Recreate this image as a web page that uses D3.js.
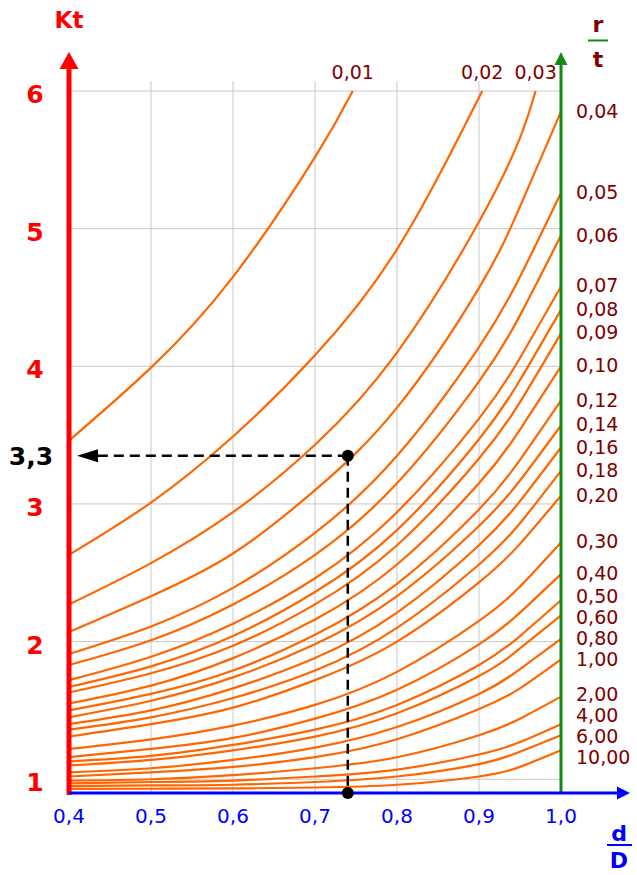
<!DOCTYPE html>
<html>
<head>
<meta charset="utf-8">
<script src="https://cdn.jsdelivr.net/npm/d3@7"></script>
<style>
  body { margin: 0; background: #fff; }
  text { font-family: "DejaVu Sans", Verdana, sans-serif; }
</style>
</head>
<body>
<div id="chart"></div>
<script>
  // d/D sample points
  var dD = [0.4, 0.5, 0.6, 0.7, 0.8, 0.9, 0.95, 1.0];

  var rtLabels = ["0,01", "0,02", "0,03", "0,04", "0,05", "0,06", "0,07", "0,08", "0,09",
                  "0,10", "0,12", "0,14", "0,16", "0,18", "0,20", "0,30", "0,40", "0,50",
                  "0,60", "0,80", "1,00", "2,00", "4,00", "6,00", "10,00"];

  // Kt for each r/t curve at the dD points (null = curve already left the top)
  var ktCurves = [
    [3.46, 3.99, 4.65, 5.52, null, null, null, null],
    [2.63, 3.01, 3.49, 4.08, 4.85, null, null, null],
    [2.27, 2.57, 2.94, 3.43, 4.10, 5.05, 5.66, null],
    [2.07, 2.33, 2.64, 3.10, 3.70, 4.57, 5.16, 5.85],
    [1.91, 2.11, 2.39, 2.79, 3.35, 4.14, 4.65, 5.26],
    [1.83, 2.01, 2.27, 2.63, 3.15, 3.89, 4.37, 4.95],
    [1.72, 1.89, 2.13, 2.46, 2.94, 3.62, 4.06, 4.58],
    [1.67, 1.82, 2.04, 2.36, 2.81, 3.47, 3.90, 4.41],
    [1.63, 1.77, 1.97, 2.27, 2.70, 3.33, 3.74, 4.24],
    [1.55, 1.68, 1.88, 2.16, 2.56, 3.15, 3.54, 4.00],
    [1.50, 1.62, 1.79, 2.05, 2.42, 2.96, 3.32, 3.75],
    [1.45, 1.57, 1.74, 1.98, 2.33, 2.84, 3.17, 3.57],
    [1.40, 1.50, 1.66, 1.88, 2.21, 2.70, 3.02, 3.41],
    [1.36, 1.45, 1.59, 1.79, 2.10, 2.56, 2.86, 3.24],
    [1.31, 1.40, 1.52, 1.72, 2.00, 2.43, 2.71, 3.06],
    [1.22, 1.29, 1.39, 1.54, 1.78, 2.15, 2.40, 2.72],
    [1.16, 1.22, 1.30, 1.44, 1.65, 1.98, 2.21, 2.49],
    [1.13, 1.17, 1.25, 1.36, 1.54, 1.83, 2.04, 2.30],
    [1.10, 1.14, 1.21, 1.31, 1.48, 1.75, 1.95, 2.19],
    [1.05, 1.08, 1.14, 1.23, 1.38, 1.62, 1.80, 2.02],
    [1.02, 1.05, 1.09, 1.16, 1.29, 1.51, 1.66, 1.87],
    [0.99, 1.00, 1.03, 1.08, 1.16, 1.32, 1.44, 1.60],
    [0.97, 0.98, 0.99, 1.02, 1.07, 1.18, 1.27, 1.40],
    [0.95, 0.955, 0.96, 0.98, 1.02, 1.11, 1.20, 1.32],
    [0.93, 0.931, 0.933, 0.94, 0.96, 1.02, 1.09, 1.21]
  ];

  // d/D where the first three curves reach Kt = 6
  var topReach = [0.746, 0.904, 0.969];

  var xTicks = [0.4, 0.5, 0.6, 0.7, 0.8, 0.9, 1.0];
  var yTicks = [1, 2, 3, 4, 5, 6];

  // worked example: d/D = 0.74, r/t = 0.04
  var exampleDD = 0.74, exampleKt = 3.35, exampleLabel = "3,3";

  var W = 637, H = 875;
  var x = d3.scaleLinear().domain([0.4, 1.0]).range([69, 561]);
  var y = d3.scaleLinear().domain([0.9, 6]).range([793, 91]);

  var svg = d3.select("#chart").append("svg")
      .attr("width", W)
      .attr("height", H)
      .style("background", "#fff");

  var comma = function (v) { return String(v).replace(".", ","); };

  // grid
  var grid = svg.append("g").attr("stroke", "#c8c8c8").attr("stroke-width", 1);
  grid.selectAll(".vg")
    .data(xTicks.filter(function (d) { return d > 0.4; }))
    .enter().append("line")
      .attr("x1", function (d) { return x(d); })
      .attr("x2", function (d) { return x(d); })
      .attr("y1", y(6) - 10)
      .attr("y2", y(0.9));
  grid.selectAll(".hg")
    .data(yTicks)
    .enter().append("line")
      .attr("x1", x(0.4))
      .attr("x2", x(1.0))
      .attr("y1", function (d) { return y(d); })
      .attr("y2", function (d) { return y(d); });

  // curves
  var line = d3.line()
      .x(function (d) { return x(d[0]); })
      .y(function (d) { return y(d[1]); })
      .curve(d3.curveNatural);

  var curves = ktCurves.map(function (row, i) {
    var pts = [];
    row.forEach(function (v, j) { if (v !== null) pts.push([dD[j], v]); });
    if (i < topReach.length) pts.push([topReach[i], 6]);
    return pts;
  });

  svg.append("g")
    .selectAll("path")
    .data(curves)
    .enter().append("path")
      .attr("d", line)
      .attr("fill", "none")
      .attr("stroke", "#ff6600")
      .attr("stroke-width", 2.2);

  // green r/t axis
  svg.append("line")
    .attr("x1", x(1.0)).attr("x2", x(1.0))
    .attr("y1", y(0.9)).attr("y2", 62)
    .attr("stroke", "#138a13").attr("stroke-width", 3);
  svg.append("path")
    .attr("d", "M" + x(1.0) + ",52 l-6.5,13 l13,0 z")
    .attr("fill", "#138a13");

  // red Kt axis
  svg.append("line")
    .attr("x1", x(0.4)).attr("x2", x(0.4))
    .attr("y1", y(0.9) + 2).attr("y2", 64)
    .attr("stroke", "#ff0000").attr("stroke-width", 5);
  svg.append("path")
    .attr("d", "M" + x(0.4) + ",52 l-9.5,17 l19,0 z")
    .attr("fill", "#ff0000");

  // blue d/D axis
  svg.append("line")
    .attr("x1", x(0.4)).attr("x2", 620)
    .attr("y1", y(0.9)).attr("y2", y(0.9))
    .attr("stroke", "#0000ff").attr("stroke-width", 3);
  svg.append("path")
    .attr("d", "M630," + y(0.9) + " l-13,-6.5 l0,13 z")
    .attr("fill", "#0000ff");

  // bottom tick labels
  svg.append("g")
    .selectAll("text")
    .data(xTicks)
    .enter().append("text")
      .attr("x", function (d) { return x(d); })
      .attr("y", y(0.9) + 30)
      .attr("text-anchor", "middle")
      .attr("fill", "#0000ff")
      .style("font-size", "20px")
      .text(function (d) { return comma(d.toFixed(1)); });

  // left tick labels
  svg.append("g")
    .selectAll("text")
    .data(yTicks)
    .enter().append("text")
      .attr("x", 35)
      .attr("y", function (d) { return y(d) + 12; })
      .attr("text-anchor", "middle")
      .attr("fill", "#ff0000")
      .style("font-size", "25px")
      .style("font-weight", "bold")
      .text(function (d) { return d; });

  // axis titles
  svg.append("text")
    .attr("x", x(0.4)).attr("y", 28)
    .attr("text-anchor", "middle")
    .attr("fill", "#ff0000")
    .style("font-size", "23px").style("font-weight", "bold")
    .text("Kt");

  svg.append("text")
    .attr("x", 598).attr("y", 32)
    .attr("text-anchor", "middle")
    .attr("fill", "#800000")
    .style("font-size", "22px").style("font-weight", "bold")
    .text("r");
  svg.append("line")
    .attr("x1", 588).attr("x2", 608).attr("y1", 40.5).attr("y2", 40.5)
    .attr("stroke", "#138a13").attr("stroke-width", 2);
  svg.append("text")
    .attr("x", 598).attr("y", 67)
    .attr("text-anchor", "middle")
    .attr("fill", "#800000")
    .style("font-size", "22px").style("font-weight", "bold")
    .text("t");

  svg.append("text")
    .attr("x", 619).attr("y", 841)
    .attr("text-anchor", "middle")
    .attr("fill", "#0000ff")
    .style("font-size", "22px").style("font-weight", "bold")
    .text("d");
  svg.append("line")
    .attr("x1", 607).attr("x2", 632).attr("y1", 845).attr("y2", 845)
    .attr("stroke", "#0000ff").attr("stroke-width", 2);
  svg.append("text")
    .attr("x", 619).attr("y", 868)
    .attr("text-anchor", "middle")
    .attr("fill", "#0000ff")
    .style("font-size", "22px").style("font-weight", "bold")
    .text("D");

  // r/t labels: the first three above the top, the rest along the green axis
  svg.append("g")
    .selectAll("text")
    .data(topReach)
    .enter().append("text")
      .attr("x", function (d) { return x(d); })
      .attr("y", y(6) - 12)
      .attr("text-anchor", "middle")
      .attr("fill", "#800000")
      .style("font-size", "19px")
      .text(function (d, i) { return rtLabels[i]; });

  var rightLabels = ktCurves.slice(topReach.length).map(function (row, i) {
    return { label: rtLabels[i + topReach.length], py: y(row[row.length - 1]) };
  });
  // push apart overlapping labels
  var minGap = 21;
  for (var it = 0; it < 80; it++) {
    for (var k = 1; k < rightLabels.length; k++) {
      var gap = rightLabels[k].py - rightLabels[k - 1].py;
      if (gap < minGap) {
        var shift = (minGap - gap) / 2;
        rightLabels[k].py += shift;
        rightLabels[k - 1].py -= shift;
      }
    }
  }
  svg.append("g")
    .selectAll("text")
    .data(rightLabels)
    .enter().append("text")
      .attr("x", 576)
      .attr("y", function (d) { return d.py + 6; })
      .attr("fill", "#800000")
      .style("font-size", "19px")
      .text(function (d) { return d.label; });

  // worked example
  var ex = x(exampleDD), ey = y(exampleKt);
  svg.append("line")
    .attr("x1", ex).attr("x2", x(0.4) + 24)
    .attr("y1", ey).attr("y2", ey)
    .attr("stroke", "#000").attr("stroke-width", 2.5)
    .attr("stroke-dasharray", "10,6");
  svg.append("path")
    .attr("d", "M" + (x(0.4) + 8) + "," + ey + " l21,-6.5 l0,13 z")
    .attr("fill", "#000");
  svg.append("line")
    .attr("x1", ex).attr("x2", ex)
    .attr("y1", ey).attr("y2", y(0.9))
    .attr("stroke", "#000").attr("stroke-width", 2.5)
    .attr("stroke-dasharray", "10,6");
  svg.append("circle").attr("cx", ex).attr("cy", ey).attr("r", 6).attr("fill", "#000");
  svg.append("circle").attr("cx", ex).attr("cy", y(0.9)).attr("r", 6).attr("fill", "#000");

  svg.append("text")
    .attr("x", 31).attr("y", ey + 9)
    .attr("text-anchor", "middle")
    .attr("fill", "#000")
    .style("font-size", "25px").style("font-weight", "bold")
    .text(exampleLabel);
</script>
</body>
</html>
